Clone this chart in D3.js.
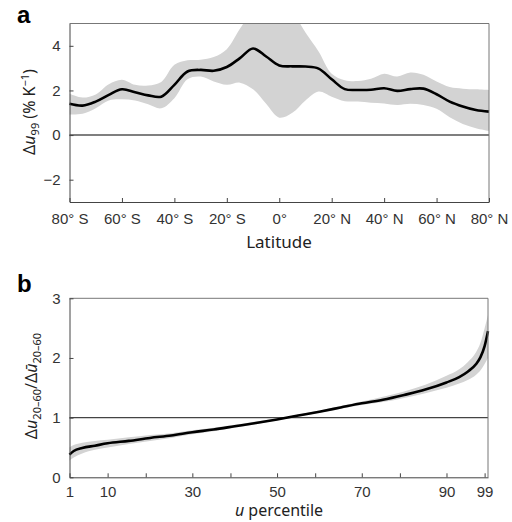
<!DOCTYPE html>
<html>
<head>
<meta charset="utf-8">
<script src="https://cdn.jsdelivr.net/npm/d3@7"></script>
<style>
  body { margin: 0; background: #fff; }
  svg { font-family: 'Noto Sans', sans-serif; }
  .axis text { font-size: 15px; fill: #333; }
  .axis path, .axis line { stroke: #444; }
</style>
</head>
<body>
<div id="chart"></div>
<script>
// panel a: latitude profile
const latitudes = [-80, -75, -70, -65, -60, -55, -50, -45, -40, -35, -30, -25, -20, -15, -10, -5,
  0, 5, 10, 15, 20, 25, 30, 35, 40, 45, 50, 55, 60, 65, 70, 75, 80]
const meanA = [1.40, 1.32, 1.50, 1.80, 2.05, 1.92, 1.78, 1.72, 2.25, 2.85, 2.92, 2.88, 3.05, 3.45, 3.88, 3.52,
  3.12, 3.08, 3.07, 2.98, 2.50, 2.06, 2.02, 2.03, 2.10, 1.98, 2.06, 2.08, 1.83, 1.50, 1.28, 1.12, 1.05]
const lowA = [0.92, 0.95, 1.20, 1.55, 1.60, 1.55, 1.38, 1.20, 1.65, 2.50, 2.62, 2.40, 2.25, 2.35, 2.05, 1.40,
  0.78, 1.00, 1.55, 1.95, 1.72, 1.52, 1.50, 1.45, 1.42, 1.35, 1.40, 1.35, 1.18, 0.80, 0.50, 0.31, 0.19]
const highA = [1.85, 1.68, 1.82, 2.28, 2.48, 2.25, 2.22, 2.38, 3.15, 3.35, 3.38, 3.50, 3.85, 4.76, 5.60, 6.00,
  6.00, 5.50, 4.60, 3.75, 2.75, 2.46, 2.42, 2.52, 2.75, 2.62, 2.80, 2.70, 2.40, 2.15, 2.08, 2.05, 2.02]
const latTicks = [-80, -60, -40, -20, 0, 20, 40, 60, 80]
const yTicksA = [-2, 0, 2, 4]

// panel b: ratio by percentile
const percentiles = [1, 2, 4, 7, 10, 15, 20, 25, 30, 35, 40, 45, 50, 55, 60, 65, 70, 75, 80, 85,
  90, 93, 95, 97, 98, 99, 99.8]
const meanB = [0.38, 0.44, 0.49, 0.53, 0.57, 0.61, 0.66, 0.70, 0.755, 0.80, 0.855, 0.91, 0.97, 1.035, 1.10, 1.17,
  1.24, 1.30, 1.38, 1.47, 1.59, 1.68, 1.77, 1.90, 2.01, 2.20, 2.45]
const lowB = [0.28, 0.33, 0.40, 0.46, 0.50, 0.56, 0.61, 0.66, 0.72, 0.77, 0.83, 0.89, 0.955, 1.02, 1.08, 1.15,
  1.21, 1.26, 1.33, 1.41, 1.50, 1.57, 1.63, 1.72, 1.79, 1.90, 2.00]
const highB = [0.50, 0.54, 0.58, 0.61, 0.63, 0.67, 0.71, 0.74, 0.79, 0.83, 0.88, 0.935, 0.985, 1.05, 1.12, 1.195,
  1.27, 1.35, 1.44, 1.55, 1.70, 1.81, 1.93, 2.10, 2.25, 2.50, 2.72]
const pctTicks = [1, 10, 30, 50, 70, 90, 99]
const pctMinor = [19, 39, 59, 79]
const yTicksB = [0, 1, 2, 3]

const svg = d3.select('#chart')
  .append('svg')
  .attr('width', 512)
  .attr('height', 522)

function latLabel(d) {
  if (d === 0) return '0°'
  return Math.abs(d) + '° ' + (d < 0 ? 'S' : 'N')
}

function frame(g, x0, x1, y0, y1) {
  g.append('line').attr('x1', x0).attr('x2', x1).attr('y1', y0).attr('y2', y0)
    .attr('stroke', '#777')
  g.append('line').attr('x1', x1).attr('x2', x1).attr('y1', y0).attr('y2', y1)
    .attr('stroke', '#777')
}

// ---- panel a ----
const xA = d3.scaleLinear().domain([-80, 80]).range([69.5, 489])
const yA = d3.scaleLinear().domain([-3, 5]).range([202, 23.5])

svg.append('defs').append('clipPath').attr('id', 'clipA')
  .append('rect').attr('x', 69.5).attr('y', 23.5).attr('width', 489 - 69.5).attr('height', 202 - 23.5)

const gA = svg.append('g')
const rowsA = latitudes.map((d, i) => ({ x: d, m: meanA[i], lo: lowA[i], hi: highA[i] }))

gA.append('path')
  .datum(rowsA)
  .attr('clip-path', 'url(#clipA)')
  .attr('fill', '#d3d3d3')
  .attr('d', d3.area().curve(d3.curveCatmullRom)
    .x(d => xA(d.x)).y0(d => yA(d.lo)).y1(d => yA(d.hi)))

gA.append('line')
  .attr('x1', xA(-80)).attr('x2', xA(80)).attr('y1', yA(0)).attr('y2', yA(0))
  .attr('stroke', '#000').attr('stroke-width', 1.1)

gA.append('path')
  .datum(rowsA)
  .attr('fill', 'none')
  .attr('stroke', '#000')
  .attr('stroke-width', 2.6)
  .attr('d', d3.line().curve(d3.curveCatmullRom).x(d => xA(d.x)).y(d => yA(d.m)))

frame(gA, 69.5, 489, 23.5, 202)

gA.append('g')
  .attr('class', 'axis')
  .attr('transform', 'translate(0,202)')
  .call(d3.axisBottom(xA).tickValues(latTicks).tickFormat(latLabel).tickSizeInner(-4).tickSizeOuter(0).tickPadding(11))

gA.append('g')
  .attr('class', 'axis')
  .attr('transform', 'translate(69.5,0)')
  .call(d3.axisLeft(yA).tickValues(yTicksA).tickFormat(d => d < 0 ? '−' + Math.abs(d) : d).tickSizeInner(-4).tickSizeOuter(0).tickPadding(9))

svg.append('text').attr('x', 279).attr('y', 248).attr('text-anchor', 'middle')
  .attr('font-size', 17).attr('fill', '#222').text('Latitude')

const tA = svg.append('text')
  .attr('transform', 'translate(35,112) rotate(-90)')
  .attr('text-anchor', 'middle').attr('font-size', 16).attr('fill', '#222')
tA.append('tspan').text('Δ')
tA.append('tspan').attr('font-style', 'italic').text('u')
tA.append('tspan').attr('font-size', 11).attr('dy', 4).text('99')
tA.append('tspan').attr('dy', -4).text(' (% K')
tA.append('tspan').attr('font-size', 11).attr('dy', -6).text('−1')
tA.append('tspan').attr('dy', 6).text(')')

svg.append('text').attr('x', 17).attr('y', 23).attr('font-family', 'Liberation Sans, Arial, sans-serif')
  .attr('font-weight', 'bold').attr('font-size', 24).text('a')

// ---- panel b ----
const xB = d3.scaleLinear().domain([1, 99.8]).range([69.5, 488])
const yB = d3.scaleLinear().domain([0, 3]).range([477.3, 298.3])

const gB = svg.append('g')
const rowsB = percentiles.map((d, i) => ({ x: d, m: meanB[i], lo: lowB[i], hi: highB[i] }))

gB.append('path')
  .datum(rowsB)
  .attr('fill', '#d3d3d3')
  .attr('d', d3.area().curve(d3.curveMonotoneX)
    .x(d => xB(d.x)).y0(d => yB(d.lo)).y1(d => yB(d.hi)))

gB.append('line')
  .attr('x1', xB(1)).attr('x2', 488).attr('y1', yB(1)).attr('y2', yB(1))
  .attr('stroke', '#444').attr('stroke-width', 1.1)

gB.append('path')
  .datum(rowsB)
  .attr('fill', 'none')
  .attr('stroke', '#000')
  .attr('stroke-width', 2.6)
  .attr('d', d3.line().curve(d3.curveMonotoneX).x(d => xB(d.x)).y(d => yB(d.m)))

frame(gB, 69.5, 488, 298.3, 477.3)

gB.append('g')
  .attr('class', 'axis')
  .attr('transform', 'translate(0,477.3)')
  .call(d3.axisBottom(xB).tickValues(pctTicks.concat(pctMinor))
    .tickFormat(d => pctTicks.includes(d) ? d : '').tickSizeInner(-4).tickSizeOuter(0).tickPadding(9))

gB.append('g')
  .attr('class', 'axis')
  .attr('transform', 'translate(69.5,0)')
  .call(d3.axisLeft(yB).tickValues(yTicksB).tickFormat(d => d).tickSizeInner(-4).tickSizeOuter(0).tickPadding(9))

const xtB = svg.append('text').attr('x', 279).attr('y', 516).attr('text-anchor', 'middle')
  .attr('font-size', 16).attr('fill', '#222')
xtB.append('tspan').attr('font-style', 'italic').text('u')
xtB.append('tspan').text(' percentile')

const tB = svg.append('text')
  .attr('transform', 'translate(37,386) rotate(-90)')
  .attr('text-anchor', 'middle').attr('font-size', 16).attr('fill', '#222')
tB.append('tspan').text('Δ')
tB.append('tspan').attr('font-style', 'italic').text('u')
tB.append('tspan').attr('font-size', 11).attr('dy', 4).text('20–60')
tB.append('tspan').attr('dy', -4).text('/Δ')
tB.append('tspan').attr('font-style', 'italic').text('ū')
tB.append('tspan').attr('font-size', 11).attr('dy', 4).text('20–60')

svg.append('text').attr('x', 17).attr('y', 291.5).attr('font-family', 'Liberation Sans, Arial, sans-serif')
  .attr('font-weight', 'bold').attr('font-size', 24).text('b')
</script>
</body>
</html>
